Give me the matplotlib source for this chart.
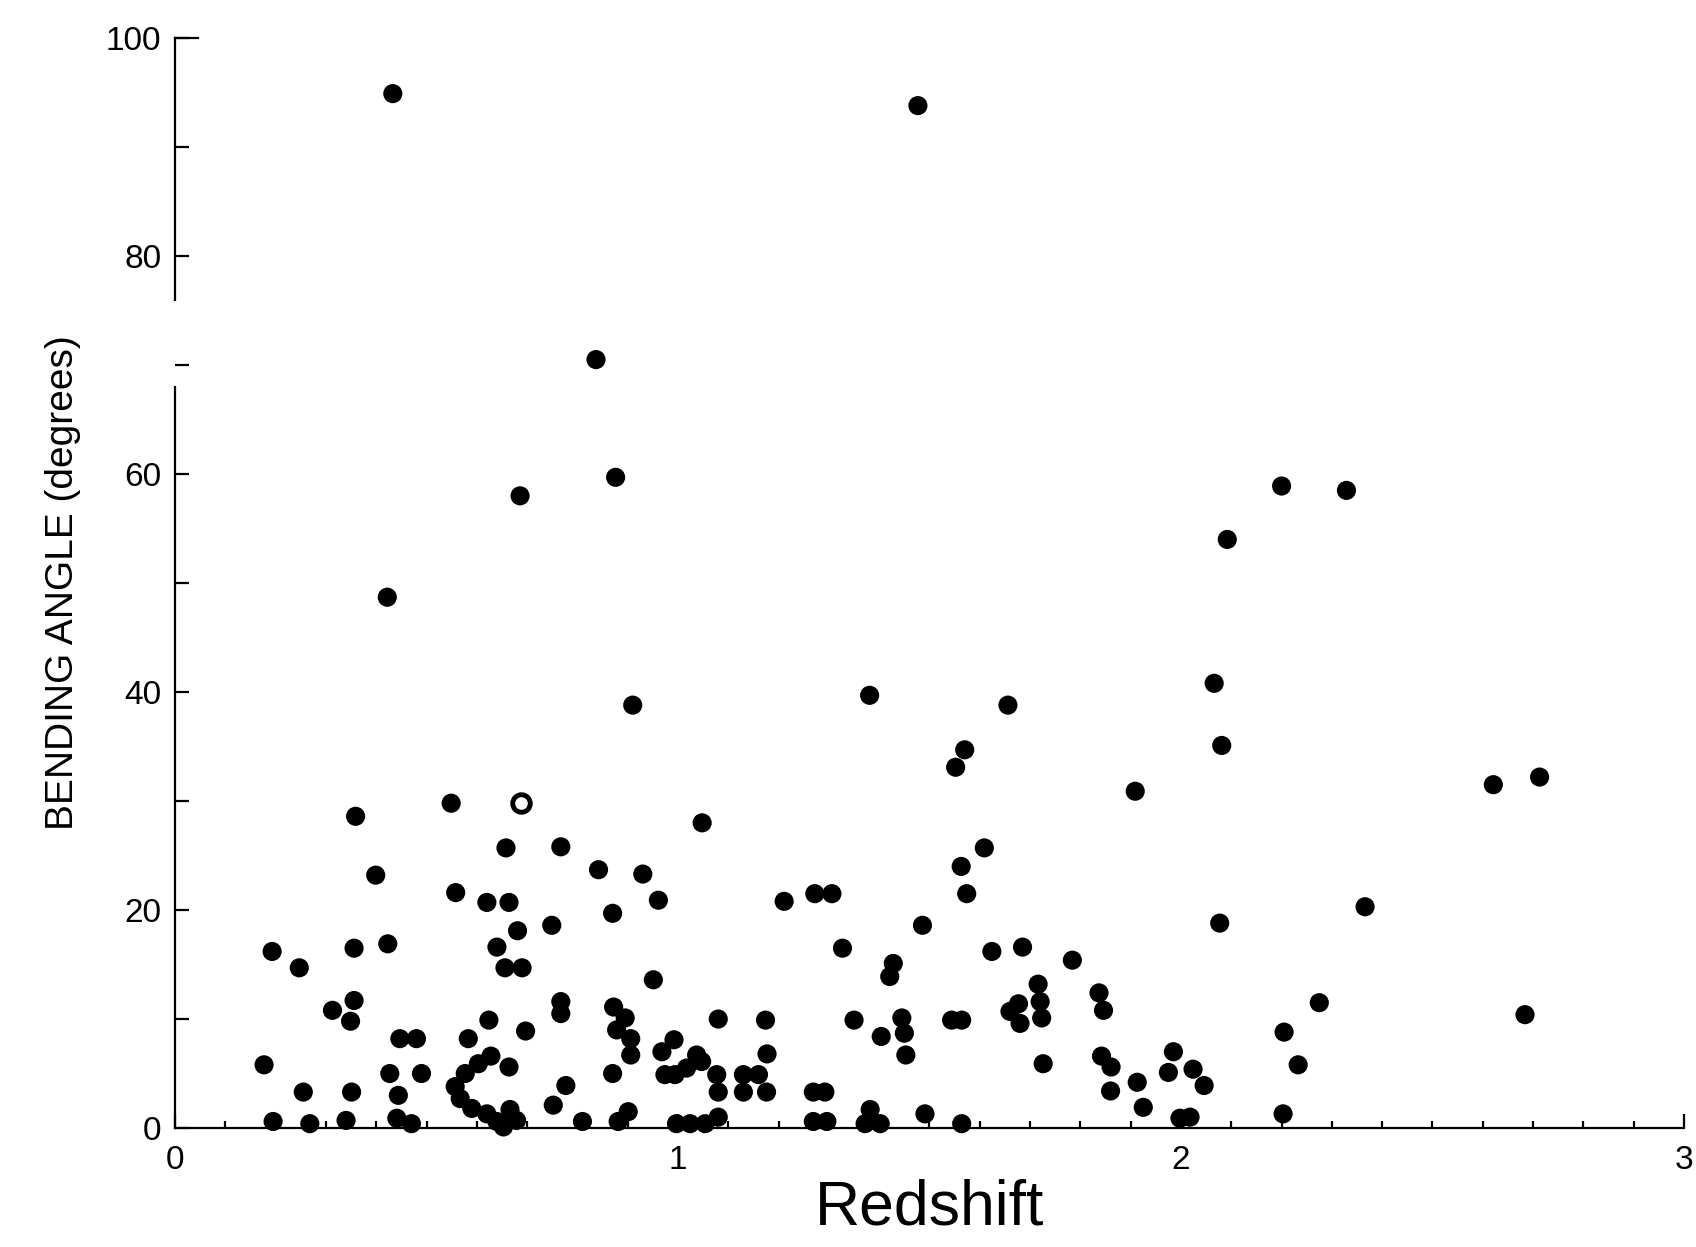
import numpy as np
import matplotlib
matplotlib.use("Agg")
import matplotlib.pyplot as plt
from matplotlib.ticker import MultipleLocator

plt.rcParams['font.family'] = ['Liberation Sans', 'DejaVu Sans']

# redshift / bending angle (deg)
redshift = [
    0.433, 1.477, 0.837, 0.876, 0.686, 0.422, 0.910, 1.381, 1.656, 2.200,
    2.329, 2.092, 2.066, 2.081, 1.909, 1.570, 1.552, 2.621, 2.713, 2.684,
    2.366, 2.275, 2.205, 2.233, 2.203, 2.077,
    # 0 - 0.8
    0.359, 0.549, 0.658, 0.767, 0.399, 0.558, 0.620, 0.664, 0.749, 0.681,
    0.193, 0.356, 0.423, 0.640, 0.656, 0.690, 0.247, 0.356, 0.313, 0.349,
    0.767, 0.767, 0.624, 0.447, 0.480, 0.583, 0.697, 0.664, 0.628,
    0.603, 0.577, 0.557, 0.567, 0.590, 0.620, 0.640, 0.666, 0.679, 0.653,
    0.177, 0.255, 0.351, 0.427, 0.444, 0.490, 0.752, 0.777,
    0.195, 0.268, 0.340, 0.441, 0.470,
    # 0.8 - 1.6
    1.048, 0.842, 0.930, 0.961, 0.870, 1.211, 1.272, 1.306, 1.563, 1.574,
    1.486, 1.327, 1.428, 1.421, 0.951, 0.872, 0.895, 0.878, 0.906, 0.906,
    1.080, 1.174, 1.177, 1.350, 1.404, 1.445, 1.450, 1.453, 1.544, 1.564,
    0.992, 0.968, 1.037, 1.047, 1.017, 0.974, 0.994, 1.077, 1.080, 1.130,
    1.160, 1.130, 1.176, 0.870, 1.269, 1.292, 0.901, 0.881, 0.810, 0.997,
    1.024, 1.054, 1.080, 1.269, 1.296, 1.382, 1.372, 1.402, 1.491, 1.564,
    # 1.6 - 2.4
    1.609, 1.624, 1.685, 1.784, 1.716, 1.677, 1.660, 1.680, 1.720, 1.723,
    1.837, 1.846, 1.726, 1.842, 1.861, 1.860, 1.913, 1.925, 1.985, 1.975,
    2.024, 2.046, 1.998, 2.018,
]
angle = [
    94.9, 93.8, 70.5, 59.7, 58.0, 48.7, 38.8, 39.7, 38.8, 58.9,
    58.5, 54.0, 40.8, 35.1, 30.9, 34.7, 33.1, 31.5, 32.2, 10.4,
    20.3, 11.5, 8.8, 5.8, 1.3, 18.8,
    28.6, 29.8, 25.7, 25.8, 23.2, 21.6, 20.7, 20.7, 18.6, 18.1,
    16.2, 16.5, 16.9, 16.6, 14.7, 14.7, 14.7, 11.7, 10.8, 9.8,
    11.6, 10.5, 9.9, 8.2, 8.2, 8.2, 8.9, 5.6, 6.6,
    5.9, 5.0, 3.8, 2.7, 1.8, 1.3, 0.6, 1.7, 0.7, 0.1,
    5.8, 3.3, 3.3, 5.0, 3.0, 5.0, 2.1, 3.9,
    0.6, 0.4, 0.7, 0.9, 0.4,
    28.0, 23.7, 23.3, 20.9, 19.7, 20.8, 21.5, 21.5, 24.0, 21.5,
    18.6, 16.5, 15.1, 13.9, 13.6, 11.1, 10.1, 9.0, 8.2, 6.7,
    10.0, 9.9, 6.8, 9.9, 8.4, 10.1, 8.7, 6.7, 9.9, 9.9,
    8.1, 7.0, 6.7, 6.1, 5.5, 4.9, 4.9, 4.9, 3.3, 4.9,
    4.9, 3.3, 3.3, 5.0, 3.3, 3.3, 1.5, 0.6, 0.6, 0.4,
    0.4, 0.4, 1.0, 0.6, 0.6, 1.7, 0.4, 0.4, 1.3, 0.4,
    25.7, 16.2, 16.6, 15.4, 13.2, 11.4, 10.7, 9.6, 11.6, 10.1,
    12.4, 10.8, 5.9, 6.6, 5.6, 3.4, 4.2, 1.9, 7.0, 5.1,
    5.4, 3.9, 0.9, 1.0,
]
open_z = [0.688]
open_a = [29.8]

fig = plt.figure(figsize=(16.96, 12.47), dpi=100)
ax = fig.add_axes([0.1032, 0.0954, 0.8897, 0.8741])

ax.scatter(redshift, angle, s=190, c='black', edgecolors='none', clip_on=False, zorder=3)
ax.scatter(open_z, open_a, s=160, facecolors='white', edgecolors='black', linewidths=3.5,
           clip_on=False, zorder=3)

ax.set_xlim(0, 3)
ax.set_ylim(0, 100)

for side in ['top', 'right']:
    ax.spines[side].set_visible(False)
ax.spines['left'].set_linewidth(1.6)
ax.spines['bottom'].set_linewidth(1.6)
# the left axis of the original is broken around 70-76 degrees
ax.spines['left'].set_bounds(0, 68)
ax.plot([0, 0], [76, 100], color='black', lw=1.6, transform=ax.get_yaxis_transform(),
        clip_on=False)
ax.plot([0, 0.015], [100, 100], color='black', lw=1.6, transform=ax.get_yaxis_transform(),
        clip_on=False)

ax.xaxis.set_major_locator(MultipleLocator(1))
ax.xaxis.set_minor_locator(MultipleLocator(0.1))
ax.yaxis.set_major_locator(MultipleLocator(20))
ax.yaxis.set_minor_locator(MultipleLocator(10))
ax.tick_params(axis='both', which='major', direction='in', length=10, width=1.6,
               labelsize=24)
ax.tick_params(axis='both', which='minor', direction='in', length=10, width=1.6)
ax.tick_params(axis='x', which='minor', length=5)
ax.tick_params(axis='x', which='major', pad=12)
ax.tick_params(axis='y', which='major', pad=10)

ax.set_xlabel('Redshift', fontsize=45, labelpad=2)
ax.set_ylabel('BENDING ANGLE (degrees)', fontsize=28, labelpad=18)

fig.savefig('out.png', dpi=100, facecolor='white')
